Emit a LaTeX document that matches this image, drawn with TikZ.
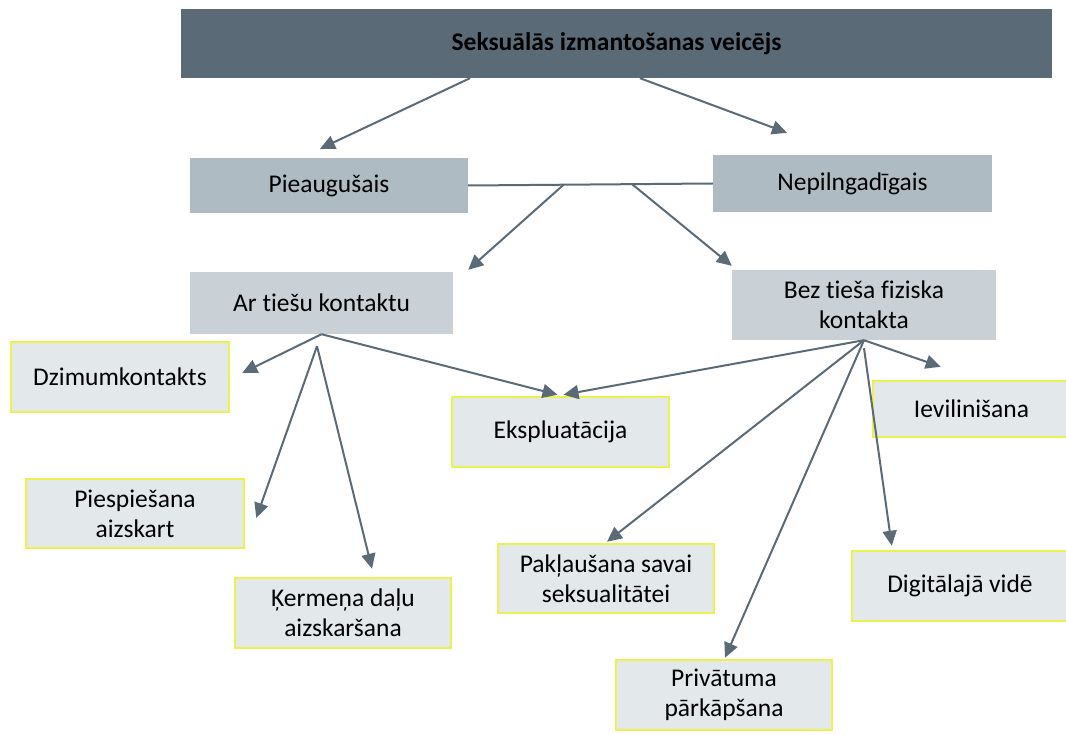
\documentclass[tikz,border=0pt]{standalone}
\usepackage{fontspec}
\setmainfont{Carlito}[Ligatures=NoCommon]
\usepackage{tikz}
\usetikzlibrary{calc,arrows.meta}

\definecolor{slate}{HTML}{5A6B77}
\definecolor{midgrey}{HTML}{AEBBC2}
\definecolor{lowgrey}{HTML}{C9D0D6}
\definecolor{leafgrey}{HTML}{E3E8EB}
\definecolor{leafedge}{HTML}{EDF14F}

\begin{document}
\begin{tikzpicture}[x=1pt, y=-1pt, font=\fontsize{25.5}{30}\selectfont,
		box/.style={rectangle, inner sep=0pt, align=center},
		leaf/.style={box, fill=leafgrey, draw=leafedge, line width=2.5pt, minimum width=216pt, minimum height=70pt},
		link/.style={draw=slate, line width=2pt, -{Triangle[length=15pt, width=14pt]}}]
			\useasboundingbox (0, 0) rectangle (1066, 735);
			\node[box, fill=slate, minimum width=871pt, minimum height=69pt, font=\fontsize{25.5}{30}\selectfont\bfseries] (top) at (616.5, 43.5) {Seksuālās izmantošanas veicējs};
			\node[box, fill=midgrey, minimum width=278pt, minimum height=55pt] (adult) at (329, 185.5) {Pieaugušais};
			\node[box, fill=midgrey, minimum width=279pt, minimum height=57pt] (minor) at (852.5, 183.5) {Nepilngadīgais};
			\node[box, fill=lowgrey, minimum width=263pt, minimum height=62pt] (direct) at (321.5, 303) {Ar tiešu kontaktu};
			\node[box, fill=lowgrey, minimum width=264pt, minimum height=70pt] (indirect) at (864, 305) {Bez tieša fiziska\\kontakta};
			\node[leaf, minimum width=218pt] (sex) at (120, 377) {Dzimumkontakts};
			\node[leaf, minimum width=217pt] (exploit) at (560.5, 432) {Ekspluatācija};
			\node[leaf, minimum width=197pt, minimum height=56pt] (lure) at (971.5, 409) {Ievilinišana};
			\node[leaf, minimum width=218pt, minimum height=69pt] (force) at (135, 513.5) {Piespiešana\\aizskart};
			\node[leaf, minimum height=69pt] (submit) at (606, 578.5) {Pakļaušana savai\\seksualitātei};
			\node[leaf] (digital) at (960, 586) {Digitālajā vidē};
			\node[leaf] (body) at (343, 613) {Ķermeņa daļu\\aizskaršana};
			\node[leaf] (privacy) at (724, 695) {Privātuma\\pārkāpšana};
			\coordinate (split1) at ($(adult.east)!0.39!(minor.west)$);
			\coordinate (split2) at ($(adult.east)!0.67!(minor.west)$);
			\coordinate (touch) at ($(direct.south) + (-4.5, 12)$);
			\coordinate (online) at ($(indirect.south) + (0, 8)$);
			\path[link] ($(top.south) + (-146.5, 0)$) -- ($(adult.north) + (-9, -9)$);
			\path[link] ($(top.south) + (23.5, 0)$) -- ($(minor.north) + (-65.5, -22)$);
			\draw[slate, line width=2pt] (adult.east) -- (minor.west);
			\path[link] (split1) -- ($(direct.north east) + (15, -2)$);
			\path[link] (split2) -- ($(indirect.north west) + (0, -4)$);
			\path[link] (direct.south) -- ($(sex.east) + (12, -4)$);
			\path[link] (direct.south) -- ($(exploit.north) + (-3, -1)$);
			\path[link] (touch) -- ($(force.east) + (11, 4.5)$);
			\path[link] (touch) -- ($(body.north) + (29, -8)$);
			\path[link] (indirect.south) -- ($(exploit.north) + (3, -1)$);
			\path[link] (indirect.south) -- ($(lure.north west) + (69, -13)$);
			\path[link] (indirect.south) -- ($(submit.north) + (1, -1)$);
			\path[link] (indirect.south) -- ($(privacy.north) + (1, -1)$);
			\path[link] (online) -- ($(digital.north west) + (41, -4)$);
		\end{tikzpicture}
\end{document}
